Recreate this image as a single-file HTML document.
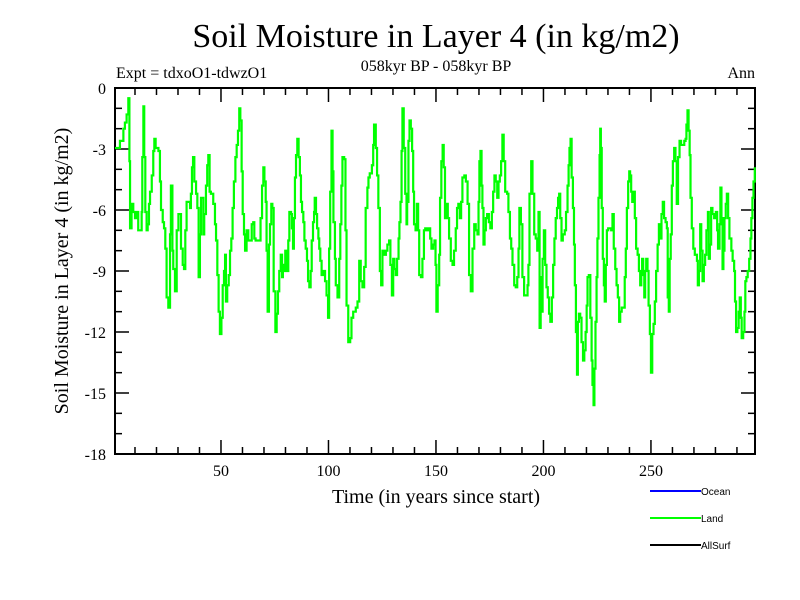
<!DOCTYPE html>
<html><head><meta charset="utf-8"><style>
body{margin:0;background:#fff;}
svg{display:block;font-family:"Liberation Serif",serif;}
</style></head><body>
<svg id="chart" width="800" height="600">
<rect width="800" height="600" fill="#fff"/>
<text x="436" y="47" font-size="34" text-anchor="middle">Soil Moisture in Layer 4 (in kg/m2)</text>
<text x="116" y="78" font-size="16">Expt = tdxoO1-tdwzO1</text>
<text x="436" y="71" font-size="16" text-anchor="middle">058kyr BP - 058kyr BP</text>
<text x="755" y="78" font-size="16" text-anchor="end">Ann</text>
<text x="436" y="503" font-size="20" text-anchor="middle">Time (in years since start)</text>
<text transform="translate(68,271) rotate(-90)" font-size="20" text-anchor="middle">Soil Moisture in Layer 4 (in kg/m2)</text>
<g id="axes"></g>
<g id="series"></g>
<g id="legend" font-family="Liberation Sans, sans-serif" font-size="11"></g>
</svg>
<script>
const years=[1.2,3,4.6,5.3,6.1,6.9,7.4,7.7,8.4,9.2,10,10.8,11.5,12.3,13.1,13.4,13.9,14.3,14.8,15.4,15.9,16.5,17,17.8,18.5,19,19.6,20.9,21.6,22.1,22.9,23.5,24.1,24.7,25.5,26.3,26.7,27.4,27.8,28.6,29.4,30.2,30.9,31.4,32.2,32.8,33.4,34,34.8,35.6,36,36.5,37,37.6,38.4,39,39.6,40.2,40.7,41.2,41.8,42.2,43,43.6,44.1,44.7,45.3,46.4,47.2,47.7,48.3,48.9,49.5,50.2,50.8,51.4,51.9,52.3,52.9,53.6,54.2,54.8,55.4,56,56.7,57.3,57.9,58.5,59,59.6,60.1,60.7,61.2,61.9,62.7,63.5,64.3,65,65.5,66.1,67.4,68.4,69.1,69.7,70.2,70.8,71.2,71.7,72.3,72.8,73.4,73.9,74.5,75.3,75.9,76.5,77.1,77.8,78.4,78.8,79.3,79.9,80.5,81.3,81.8,82.6,83,83.5,83.9,84.4,84.9,85.5,86.1,86.7,87.2,87.7,88.3,88.8,89.4,90,90.5,91.1,91.7,92.2,92.8,93.3,93.6,94.2,94.7,95.3,95.7,96.2,96.8,97.6,98.4,99.1,99.8,100.3,100.8,101.4,101.9,102.3,103,103.4,104.2,105,105.5,106,106.5,107.3,107.9,108.4,109.2,110.1,110.7,111.5,112.7,113.5,114.3,115,115.8,116.6,117.3,118.1,118.6,119.2,120.2,120.8,121.2,122,122.6,123.2,123.9,124.5,125.1,125.9,126.7,127.4,128.2,128.8,129.5,130.1,130.7,131.3,131.9,132.6,133,133.5,134,134.4,135,135.7,136.3,136.6,137.2,137.7,138.3,138.9,139.4,139.8,140.5,141.1,141.7,142.2,143,143.7,144.4,145,145.6,146.5,147.3,147.9,148.7,149.3,149.8,150.2,150.8,151.5,151.9,152.5,153.1,153.6,154.2,154.8,155.5,156.1,156.9,157.7,158.4,159.2,159.8,160.4,161.1,161.7,162.3,163.2,163.9,164.7,165.4,166.2,167,167.8,168.5,169.3,169.8,170.2,170.7,171.2,171.6,172.1,172.6,173.2,173.8,174.6,175.3,176,176.6,177.2,177.8,178.5,179.1,179.7,180.3,180.9,181.5,182.2,183.1,183.7,184.4,185,185.6,186.4,187.1,187.8,188.4,188.8,189.5,190.2,191,191.8,192.6,193,193.5,194.3,194.9,195.7,196.4,197.1,197.7,198.2,198.7,199.1,199.6,200.2,200.8,201.4,202,202.6,203.2,203.9,204.5,205.1,205.7,206.3,206.8,207.3,207.8,208.4,209,209.9,210.5,211.2,211.7,212.1,212.6,213.1,213.7,214.2,214.6,215.1,215.6,216,216.5,217.1,217.7,218.4,219,219.6,220.1,220.5,221.1,221.8,222.4,222.8,223.3,223.7,224.2,224.7,225.1,225.6,226.1,226.4,226.7,227.1,227.6,228.1,228.5,229,229.5,230.1,230.9,231.5,232.1,232.7,233.4,234,234.6,235.2,235.7,236.4,237.2,237.8,238.3,238.8,239.4,239.9,240.3,240.8,241.3,241.9,242.5,243.1,243.8,244.4,245,245.5,245.9,246.4,246.9,247.3,247.8,248.4,248.9,249.5,250,250.6,251.2,251.8,252.4,253.1,253.7,254.3,254.9,255.5,256.1,256.8,257.4,257.8,258.3,258.7,259.2,259.7,260.2,260.8,261.4,262,262.6,263.3,264,264.8,265.5,266.1,266.5,267,267.5,268,268.4,269,269.7,270.4,271.4,271.8,272.3,272.9,273.4,274,274.6,275.2,275.8,276.5,276.9,277.4,278,278.6,279.4,280.2,280.8,281.2,281.9,282.3,282.8,283.3,283.7,284.2,284.8,285.3,285.9,286.5,287.4,288,288.7,289.1,289.6,290.2,290.8,291.3,291.8,292.2,292.9,293.5,293.9,294.4,295,295.7,296.3,296.7,297.2,297.7,298.3];
const landValues=[-2.95,-2.6,-2.0,-1.7,-1.3,-0.5,-3.6,-6.9,-5.7,-6.1,-6.4,-6.1,-7.0,-7.0,-6.1,-3.4,-0.9,-3.4,-6.1,-7.0,-6.7,-5.7,-5.1,-4.3,-3.1,-2.5,-2.95,-3.1,-4.6,-6.0,-6.6,-6.9,-7.9,-10.3,-10.8,-7.2,-4.8,-8.0,-8.9,-10.0,-7.0,-6.2,-6.2,-7.9,-8.7,-8.9,-7.0,-5.6,-5.6,-5.9,-5.2,-3.9,-3.4,-4.6,-5.2,-5.9,-9.3,-7.2,-5.4,-5.4,-7.2,-6.2,-4.8,-3.8,-3.3,-5.1,-5.2,-5.7,-6.7,-7.5,-9.2,-11.0,-12.1,-11.3,-9.7,-9.0,-8.2,-10.5,-9.7,-9.2,-8.0,-7.4,-5.9,-4.6,-3.4,-2.8,-2.1,-1.0,-1.6,-4.1,-6.2,-7.2,-8.0,-7.0,-7.5,-7.5,-6.7,-6.6,-7.4,-7.5,-7.5,-6.4,-4.8,-3.9,-4.6,-5.6,-8.0,-11.0,-7.7,-6.7,-5.7,-5.9,-10.0,-12.0,-11.1,-10.0,-9.0,-8.2,-9.3,-8.7,-9.0,-8.0,-9.0,-7.5,-6.1,-6.2,-6.9,-7.9,-6.4,-4.4,-3.3,-2.5,-3.4,-4.3,-5.6,-6.1,-6.6,-7.5,-7.9,-8.5,-9.5,-9.8,-9.0,-7.5,-6.6,-6.1,-5.4,-6.2,-6.9,-7.4,-7.9,-8.5,-9.2,-9.0,-9.5,-10.2,-11.3,-7.9,-5.1,-2.1,-4.1,-6.6,-8.4,-9.7,-10.3,-8.4,-6.7,-4.8,-3.4,-3.5,-7.0,-10.7,-12.5,-12.3,-11.3,-11.0,-10.8,-10.5,-8.5,-9.5,-9.8,-8.8,-5.9,-4.9,-4.4,-4.2,-3.8,-2.8,-1.8,-2.95,-4.3,-5.9,-9.0,-9.7,-8.0,-8.2,-8.0,-7.7,-7.5,-8.7,-10.2,-8.4,-8.9,-9.2,-8.4,-7.4,-6.6,-5.6,-3.1,-1.0,-2.95,-5.2,-6.7,-5.6,-2.6,-1.6,-2.0,-3.1,-5.1,-6.7,-7.0,-5.7,-7.0,-9.2,-9.3,-8.4,-7.0,-6.9,-7.0,-6.9,-7.4,-7.9,-7.7,-7.5,-8.7,-11.0,-9.7,-8.2,-5.4,-3.6,-2.8,-3.9,-6.4,-5.7,-6.4,-7.4,-8.5,-8.7,-8.0,-6.9,-5.9,-5.7,-6.4,-5.6,-4.4,-4.3,-4.6,-5.7,-9.2,-10.0,-7.9,-6.7,-7.0,-7.2,-5.6,-3.6,-3.1,-4.8,-5.9,-7.7,-7.0,-6.4,-6.2,-6.6,-6.9,-6.1,-5.1,-4.3,-4.6,-5.4,-4.6,-4.3,-3.6,-2.3,-3.6,-5.1,-5.2,-6.1,-7.4,-7.9,-8.7,-9.7,-9.8,-9.3,-7.9,-5.9,-6.7,-9.3,-10.2,-10.2,-9.7,-8.7,-5.2,-3.6,-5.2,-7.2,-7.4,-8.0,-6.1,-11.8,-9.3,-11.0,-8.4,-7.0,-8.7,-9.8,-10.3,-11.1,-11.5,-10.3,-8.7,-7.4,-6.4,-5.9,-5.4,-5.2,-6.4,-7.5,-7.2,-7.0,-6.1,-4.8,-3.8,-2.95,-2.5,-4.4,-5.9,-7.7,-9.7,-12.0,-14.1,-11.5,-11.1,-11.3,-12.5,-13.4,-12.9,-12.0,-10.7,-9.3,-9.2,-11.3,-13.4,-14.6,-15.6,-13.8,-11.5,-9.3,-7.4,-5.4,-3.3,-2.0,-2.95,-5.9,-8.4,-9.7,-10.5,-8.7,-7.0,-6.9,-6.9,-7.0,-6.2,-7.9,-8.9,-9.7,-10.3,-11.5,-11.0,-10.8,-10.8,-9.3,-7.9,-5.9,-4.6,-4.1,-4.3,-5.1,-5.6,-5.1,-6.4,-7.9,-8.2,-9.0,-9.7,-9.0,-8.4,-9.2,-10.3,-9.0,-8.4,-9.0,-10.7,-12.1,-14.0,-12.1,-11.6,-10.5,-9.0,-7.7,-6.7,-7.4,-6.2,-5.6,-6.4,-6.6,-6.9,-10.3,-11.0,-8.4,-7.2,-4.8,-3.6,-2.95,-3.6,-5.7,-3.4,-2.6,-2.8,-2.8,-2.6,-2.5,-1.8,-1.1,-2.1,-3.3,-5.4,-6.9,-7.9,-8.2,-8.5,-9.7,-9.0,-6.7,-8.0,-9.5,-8.7,-8.2,-7.0,-6.1,-8.4,-7.7,-5.9,-6.2,-6.4,-6.1,-7.0,-7.9,-6.7,-4.9,-6.4,-8.9,-8.0,-6.4,-5.7,-5.2,-6.4,-7.4,-8.0,-8.5,-9.0,-10.5,-12.0,-11.8,-11.0,-10.3,-11.3,-12.3,-12.0,-11.0,-9.5,-9.3,-9.0,-8.4,-7.4,-6.4,-5.4,-4.6,-3.9];
const xTickValues=[50,100,150,200,250];
const yTickValues=[0,-3,-6,-9,-12,-15,-18];
const legendLabels=["Ocean","Land","AllSurf"];
const legendColors=["#0000ff","#00ff00","#000000"];

const X0=115,X1=755,Y0=88,Y1=454,XMIN=0.7,XMAX=298.4,YMIN=-18,YMAX=0;
const NS="http://www.w3.org/2000/svg";
function sx(v){return X0+(v-XMIN)/(XMAX-XMIN)*(X1-X0);}
function sy(v){return Y0+(YMAX-v)/(YMAX-YMIN)*(Y1-Y0);}
function mk(tag,attrs,parent){const e=document.createElementNS(NS,tag);for(const k in attrs)e.setAttribute(k,attrs[k]);parent.appendChild(e);return e;}
const axes=document.getElementById('axes');
// minor x ticks
for(let t=10;t<XMAX;t+=10){
  const major=t%50===0,len=major?14:7;
  const a=mk('line',{x1:sx(t),x2:sx(t),y1:Y1,y2:Y1-len,stroke:'#000','stroke-width':1.5},axes);
  
  
  const b=mk('line',{x1:sx(t),x2:sx(t),y1:Y0,y2:Y0+len,stroke:'#000','stroke-width':1.5},axes);
  
  
}
for(let v=-1;v>YMIN;v--){
  const major=v%3===0,len=major?14:7;
  const a=mk('line',{x1:X0,x2:X0+len,y1:sy(v),y2:sy(v),stroke:'#000','stroke-width':1.5},axes);
  
  
  const b=mk('line',{x1:X1,x2:X1-len,y1:sy(v),y2:sy(v),stroke:'#000','stroke-width':1.5},axes);
  
  
}
xTickValues.forEach(t=>{
  const e=mk('text',{x:sx(t),y:Y1+22,'font-size':16,'text-anchor':'middle'},axes);
  e.textContent=String(t);
  
  
});
yTickValues.forEach(v=>{
  const e=mk('text',{x:X0-9,y:sy(v)+6,'font-size':16,'text-anchor':'end'},axes);
  e.textContent=String(v);
  
  
});
const frame=mk('rect',{x:X0,y:Y0,width:X1-X0,height:Y1-Y0,fill:'none',stroke:'#000','stroke-width':2},axes);


// series step line
let d='';
years.forEach((yr,i)=>{
  const x=sx(yr),y=sy(landValues[i]);
  if(i===0)d+='M'+sx(XMIN)+','+y+' L'+x+','+y;
  else d+=' L'+x+','+sy(landValues[i-1])+' L'+x+','+y;
});
const line=mk('path',{d:d,fill:'none',stroke:'#00ff00','stroke-width':2.2,'stroke-linejoin':'miter'},document.getElementById('series'));


// legend
const lg=document.getElementById('legend');
legendLabels.forEach((lab,i)=>{
  const y=491+i*27;
  const l=mk('line',{x1:650,x2:701,y1:y,y2:y,stroke:legendColors[i],'stroke-width':2},lg);
  
  
  const t=mk('text',{x:701,y:y+4,'font-size':10,fill:'#000'},lg);
  t.textContent=lab;
  
  
});
</script>
</body></html>
